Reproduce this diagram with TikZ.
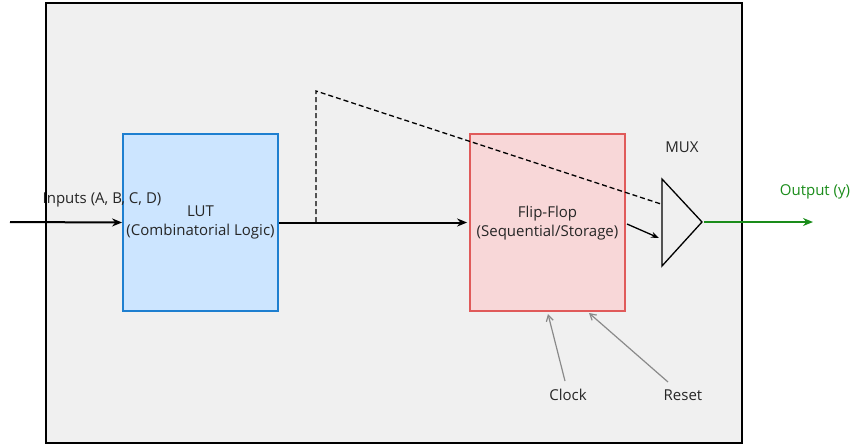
\documentclass[tikz,border=0pt]{standalone}
\usepackage{fontspec}
\setmainfont{Open Sans}
\usetikzlibrary{arrows.meta}
\definecolor{panel}{HTML}{F0F0F0}
\definecolor{lutfill}{HTML}{CCE5FF}
\definecolor{lutline}{HTML}{1E7FD0}
\definecolor{fffill}{HTML}{F8D7D8}
\definecolor{ffline}{HTML}{E05A5A}
\definecolor{outgreen}{HTML}{1A8C1A}
\definecolor{ctrlgray}{HTML}{8A8A8A}
\tikzset{
  lbl/.style={font=\fontsize{15}{19}\selectfont, text=black!85, inner sep=0pt, align=center},
  block/.style={minimum width=155pt, minimum height=177pt, line width=1.8pt, inner sep=0pt},
  wire/.style={line width=2pt, -{Stealth[length=10pt,width=8pt]}},
  ctrl/.style={line width=1.2pt, draw=ctrlgray, -{Straight Barb[length=6pt,width=7pt]}},
}
\begin{document}
\begin{tikzpicture}[x=1pt,y=-1pt]
\useasboundingbox (0,0) rectangle (852,445);
% enclosing panel
\fill[panel] (46,3) rectangle (742,443);

% blocks
\node[block, fill=lutfill, draw=lutline] (lut) at (200.5,222.5) {};
\node[lbl] (luttxt) at (200.5,222) {LUT\\(Combinatorial Logic)};
\node[block, fill=fffill, draw=ffline] (ff) at (547.5,222.5) {};
\node[lbl] (fftxt) at (547.5,223) {Flip-Flop\\(Sequential/Storage)};

\node[lbl] (inlbl) at (102,200) {Inputs (A, B, C, D)};
\draw[line width=2.8pt] (46,3) rectangle (742,443);

% multiplexer
\coordinate (mt) at (662,179);
\coordinate (mb) at (662,266);
\coordinate (ma) at (702,222);
\draw[line width=1.3pt, fill=panel, line join=miter] (mt) -- (ma) -- (mb) -- cycle;
\node[lbl] (muxlbl) at (682,147) {MUX};

% signal paths
\coordinate (src) at (10,222);
\coordinate (tap) at (316,222);
\coordinate (tapup) at (316,91);
\coordinate (muxin) at (661,204);
\draw[wire] (src) -- (lut.west);
\draw[wire] (lut.east) -- ([xshift=-2pt]ff.west);
\draw[line width=1.3pt, dash pattern=on 5pt off 3pt] (tap) -- (tapup) -- (muxin);
\coordinate (ffo) at (627,224);
\coordinate (muxin2) at (659,238);
\draw[line width=1.3pt, -{Stealth[length=8pt,width=6pt]}] (ffo) -- (muxin2);

% output
\coordinate (outend) at (813,222);
\draw[line width=2.4pt, draw=outgreen, -{Stealth[length=10pt,width=8pt]}, color=outgreen] ([xshift=2pt]ma) -- (outend);
\node[lbl, text=outgreen] (outlbl) at (815,192) {Output (y)};

% control inputs
\node[lbl] (clk) at (568,395) {Clock};
\node[lbl] (rst) at (683,395) {Reset};
\coordinate (clkin) at (548,314);
\coordinate (rstin) at (589,313);
\draw[ctrl] (565,381) -- (clkin);
\draw[ctrl] (668,382) -- (rstin);
\end{tikzpicture}
\end{document}
